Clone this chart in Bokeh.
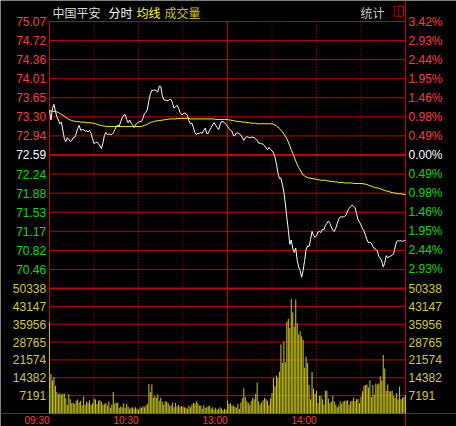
from bokeh.plotting import figure
from bokeh.models import Range1d
from bokeh.core.properties import value
from bokeh.embed import file_html
from bokeh.resources import INLINE

# ---------------- data ----------------
stock_name = "中国平安"
title_parts = ["分时", "均线", "成交量"]
stat_label = "统计"
prev_close = 72.59
price_max = 75.07
vol_max = 50338

price_labels_left = ["75.07", "74.72", "74.36", "74.01", "73.65", "73.30", "72.94",
                     "72.59",
                     "72.24", "71.88", "71.53", "71.17", "70.82", "70.46"]
pct_labels_right = ["3.42%", "2.93%", "2.44%", "1.95%", "1.46%", "0.98%", "0.49%",
                    "0.00%",
                    "0.49%", "0.98%", "1.46%", "1.95%", "2.44%", "2.93%"]
vol_labels = ["50338", "43147", "35956", "28765", "21574", "14382", "7191"]
time_labels = ["09:30", "10:30", "13:00", "14:00"]
time_label_minutes = [0, 60, 120, 180]
grid_minutes_dotted = [30, 60, 90, 150, 180, 210]

minutes = list(range(241))

price = [
    73.42, 73.24, 73.46, 73.53, 73.40, 73.30, 73.24, 73.17, 73.20, 73.05,
    72.89, 72.84, 72.91, 72.88, 72.84, 72.86, 72.91, 72.92, 72.99, 73.08,
    73.14, 73.05, 73.06, 73.06, 73.03, 73.04, 73.02, 73.05, 72.99, 72.89,
    72.80, 72.82, 72.83, 72.80, 72.76, 72.71, 72.81, 72.95, 73.01, 72.97,
    72.98, 72.97, 72.97, 73.00, 73.06, 73.12, 73.15, 73.12, 73.21, 73.28,
    73.33, 73.34, 73.25, 73.19, 73.24, 73.18, 73.15, 73.10, 73.15, 73.18,
    73.20, 73.21, 73.21, 73.27, 73.36, 73.38, 73.44, 73.60, 73.72, 73.79,
    73.79, 73.80, 73.78, 73.76, 73.87, 73.86, 73.70, 73.62, 73.61, 73.60,
    73.60, 73.62, 73.62, 73.55, 73.46, 73.49, 73.51, 73.46, 73.38, 73.34,
    73.35, 73.37, 73.36, 73.32, 73.23, 73.17, 73.18, 73.10, 73.01, 72.97,
    72.99, 72.99, 73.01, 72.99, 73.05, 73.09, 72.99, 72.99, 73.05, 73.10,
    73.15, 73.19, 73.14, 73.10, 73.06, 73.16, 73.21, 73.21, 73.19, 73.16,
    73.12, 73.08, 73.05, 73.03, 72.95, 72.95, 73.00, 73.00, 72.98, 72.96,
    72.91, 72.86, 72.91, 72.93, 72.92, 72.91, 72.92, 72.92, 72.91, 72.89,
    72.86, 72.81, 72.81, 72.80, 72.79, 72.76, 72.72, 72.69, 72.73, 72.69,
    72.67, 72.63, 72.55, 72.42, 72.26, 72.15, 72.16, 72.04, 71.90, 71.68,
    71.43, 71.20, 70.93, 71.01, 70.85, 70.78, 70.86, 70.63, 70.51, 70.44,
    70.32, 70.45, 70.63, 70.84, 70.90, 70.89, 71.02, 71.17, 71.10, 71.06,
    71.09, 71.16, 71.17, 71.15, 71.21, 71.20, 71.28, 71.32, 71.36, 71.32,
    71.25, 71.19, 71.17, 71.23, 71.32, 71.40, 71.44, 71.44, 71.44, 71.45,
    71.48, 71.55, 71.60, 71.63, 71.66, 71.64, 71.61, 71.50, 71.39, 71.34,
    71.29, 71.22, 71.18, 71.10, 71.02, 70.96, 70.97, 70.95, 70.89, 70.85,
    70.84, 70.81, 70.71, 70.67, 70.62, 70.51, 70.58, 70.72, 70.68, 70.70,
    70.71, 70.73, 70.75, 70.88, 70.98, 71.00, 70.99, 71.00, 70.98, 71.00,
    71.01]

avg_price = [
    73.41, 73.41, 73.40, 73.40, 73.40, 73.39, 73.38, 73.36, 73.34, 73.33,
    73.31, 73.29, 73.27, 73.25, 73.24, 73.23, 73.22, 73.22, 73.21, 73.21,
    73.21, 73.20, 73.20, 73.20, 73.20, 73.19, 73.19, 73.19, 73.19, 73.18,
    73.18, 73.17, 73.16, 73.15, 73.14, 73.14, 73.13, 73.13, 73.12, 73.12,
    73.12, 73.12, 73.12, 73.12, 73.12, 73.12, 73.12, 73.12, 73.12, 73.12,
    73.12, 73.12, 73.12, 73.12, 73.12, 73.12, 73.12, 73.12, 73.12, 73.12,
    73.12, 73.12, 73.12, 73.13, 73.14, 73.15, 73.16, 73.18, 73.19, 73.20,
    73.21, 73.22, 73.22, 73.23, 73.23, 73.23, 73.24, 73.24, 73.25, 73.25,
    73.25, 73.26, 73.26, 73.26, 73.26, 73.26, 73.27, 73.27, 73.27, 73.27,
    73.27, 73.27, 73.27, 73.27, 73.27, 73.26, 73.26, 73.26, 73.26, 73.26,
    73.26, 73.26, 73.26, 73.26, 73.26, 73.26, 73.26, 73.26, 73.26, 73.26,
    73.26, 73.26, 73.25, 73.25, 73.25, 73.25, 73.25, 73.25, 73.25, 73.25,
    73.25, 73.24, 73.24, 73.23, 73.23, 73.22, 73.22, 73.21, 73.21, 73.21,
    73.20, 73.20, 73.20, 73.19, 73.19, 73.19, 73.18, 73.18, 73.18, 73.18,
    73.17, 73.17, 73.17, 73.17, 73.17, 73.17, 73.17, 73.17, 73.17, 73.17,
    73.17, 73.16, 73.15, 73.13, 73.11, 73.08, 73.05, 73.02, 72.98, 72.94,
    72.89, 72.83, 72.76, 72.69, 72.62, 72.55, 72.48, 72.41, 72.36, 72.31,
    72.26, 72.22, 72.20, 72.18, 72.17, 72.16, 72.16, 72.15, 72.15, 72.14,
    72.14, 72.13, 72.13, 72.12, 72.12, 72.12, 72.12, 72.11, 72.11, 72.10,
    72.10, 72.10, 72.09, 72.09, 72.09, 72.08, 72.08, 72.08, 72.08, 72.07,
    72.07, 72.07, 72.07, 72.07, 72.07, 72.06, 72.06, 72.06, 72.06, 72.06,
    72.06, 72.06, 72.05, 72.05, 72.04, 72.03, 72.02, 72.01, 72.00, 71.99,
    71.98, 71.98, 71.97, 71.96, 71.95, 71.94, 71.93, 71.92, 71.92, 71.91,
    71.90, 71.89, 71.89, 71.88, 71.88, 71.87, 71.87, 71.87, 71.86, 71.86,
    71.86]

volume = [
    36900, 15900, 13400, 14650, 11200, 8660, 7640, 8280, 7500,
    7900, 8030, 6120, 3570, 7900, 5730, 4080, 4330, 3800,
    5100, 5610, 4460, 5100, 3190, 6880, 3570, 4840, 4200,
    5350, 3570, 4080, 6120, 5610, 3820, 5100, 5480, 4600,
    3570, 3820, 4330, 3190, 4840, 2290, 3570, 8660, 4000,
    4460, 4330, 2290, 2800, 2550, 4080, 2290, 3820, 2800,
    1910, 2290, 2550, 1910, 2550, 1910, 1530, 2550, 2300,
    2930, 2550, 3190, 3820, 11850, 8540, 11720, 6370, 7000,
    6370, 7640, 5100, 6370, 4840, 3570, 4840, 4840, 4100,
    3190, 3190, 4460, 2550, 4200, 2800, 3570, 2550, 3000,
    2800, 2550, 2290, 1910, 3190, 2550, 3570, 4330, 3900,
    4840, 4080, 3190, 3190, 1910, 3190, 2290, 2550, 2900,
    3190, 1910, 2550, 1530, 2290, 1530, 1910, 2550, 2000,
    1270, 1910, 1530, 5100, 3820, 4080, 3190, 3190, 2700,
    2290, 3820, 1910, 4460, 6120, 10190, 6630, 4840, 4300,
    3570, 5100, 6370, 5730, 7900, 12490, 4840, 3570, 4400,
    5350, 6370, 5730, 5100, 3570, 6120, 8280, 14270, 11000,
    15290, 14270, 16820, 27770, 20380, 29050, 20640, 36950, 38000,
    34400, 46120, 40770, 35030, 45860, 36310, 31850, 33120, 31000,
    29560, 18470, 22930, 20380, 11470, 5730, 16820, 9940, 8000,
    9170, 4080, 7010, 7010, 5730, 3570, 9170, 9170, 6000,
    4080, 4840, 7010, 4840, 3570, 2550, 3190, 4840, 3800,
    4840, 5100, 5100, 5350, 3570, 4840, 5100, 6370, 4900,
    5730, 5730, 4080, 6630, 8920, 11210, 11470, 11720, 10500,
    13380, 6630, 11470, 7640, 12100, 11720, 12100, 15030, 13200,
    23570, 18090, 9170, 11720, 8920, 8920, 9170, 7010, 6200,
    8280, 5730, 10830, 5730, 6370, 6630, 7400]

# ---------------- layout / style ----------------
W, H = 456, 426
X0, XW = 49.0, 356.0           # pixel of minute 0, width of 240 minutes
Y_TOP, ROW_P = 21.0, 19.07     # pixel of top price line, price row height
VOL_TOP = Y_TOP + 14 * ROW_P   # pixel of volume max line
VOL_BOT = 413.0                # pixel of volume zero line
ROW_V = (VOL_BOT - VOL_TOP) / 7
N_MIN = 240
ppm = XW / N_MIN
step = (price_max - prev_close) / 7.0
vstep = vol_max / 7.0
ppp = step / ROW_P
vpp = vstep / ROW_V

BG = "#000000"
GRID = "#c00000"
RED_T = "#ff3c3c"
GREEN_T = "#00dd00"
WHITE = "#ffffff"
VOL_T = "#d0c838"
VOL_BAR = "#c8c400"
AVG = "#ffff00"
NUM_FONT = value("Liberation Sans")
CJK_FONT = value("Noto Sans CJK SC")
FS = "12px"


def mx(px):
    return (px - X0) / ppm


def py(pix):
    return price_max - (pix - Y_TOP) * ppp


p = figure(width=W, height=H, x_range=Range1d(mx(0), mx(W)),
           y_range=Range1d(py(H), py(0)),
           x_axis_type=None, y_axis_type=None,
           toolbar_location=None, output_backend="svg",
           min_border=0, background_fill_color=BG, border_fill_color=BG,
           outline_line_color=None)
p.extra_y_ranges = {"vol": Range1d(-(H - VOL_BOT) * vpp, VOL_BOT * vpp)}

levels = [prev_close + step * k for k in range(7, -8, -1)]
bottom_price = py(VOL_BOT)

# horizontal grid lines (price panel)
thin = [lv for i, lv in enumerate(levels[:-1]) if i != 7]
p.segment(x0=[0] * len(thin), x1=[N_MIN] * len(thin), y0=thin, y1=thin,
          line_color=GRID, line_width=1)
p.segment(x0=[0], x1=[N_MIN], y0=[prev_close], y1=[prev_close],
          line_color=GRID, line_width=2)
# volume panel lines
vlev = [vol_max - vstep * k for k in range(1, 7)]
p.segment(x0=[0] * 6, x1=[N_MIN] * 6, y0=vlev, y1=vlev,
          line_color=GRID, line_width=1, y_range_name="vol")
p.segment(x0=[0], x1=[N_MIN], y0=[vol_max], y1=[vol_max],
          line_color=GRID, line_width=2, y_range_name="vol")
p.segment(x0=[mx(0)], x1=[mx(W)], y0=[0], y1=[0],
          line_color=GRID, line_width=1, y_range_name="vol")

# vertical lines
p.segment(x0=grid_minutes_dotted, x1=grid_minutes_dotted,
          y0=[price_max] * 6, y1=[bottom_price] * 6,
          line_color=GRID, line_width=1, line_dash="1 2")
p.segment(x0=[0, 120], x1=[0, 120], y0=[price_max] * 2, y1=[bottom_price] * 2,
          line_color=GRID, line_width=1)
p.segment(x0=[N_MIN], x1=[N_MIN], y0=[py(0)], y1=[py(H)],
          line_color=GRID, line_width=1)

# volume bars
p.vbar(x=minutes, top=volume, bottom=0, width=0.7, fill_color=VOL_BAR,
       line_color=None, y_range_name="vol")

# price and average lines
p.line(minutes, avg_price, line_color=AVG, line_width=1)
p.line(minutes, price, line_color=WHITE, line_width=1)

# left/right price labels
lab_levels = levels[:14]
cols = [RED_T] * 7 + [WHITE] + [GREEN_T] * 6
p.text(x=[mx(45.7)] * 14, y=lab_levels, text=price_labels_left, text_color=cols,
       text_font=NUM_FONT, text_font_size=FS, text_align="right",
       text_baseline="middle")
p.text(x=[mx(408)] * 14, y=lab_levels, text=pct_labels_right, text_color=cols,
       text_font=NUM_FONT, text_font_size=FS, text_align="left",
       text_baseline="middle")
# volume labels
vl = [vol_max - vstep * k for k in range(7)]
p.text(x=[mx(45.7)] * 7, y=vl, text=vol_labels, text_color=VOL_T,
       text_font=NUM_FONT, text_font_size=FS, text_align="right",
       text_baseline="middle", y_range_name="vol")
p.text(x=[mx(408)] * 7, y=vl, text=vol_labels, text_color=VOL_T,
       text_font=NUM_FONT, text_font_size=FS, text_align="left",
       text_baseline="middle", y_range_name="vol")
# time labels along the bottom
p.text(x=time_label_minutes, y=[py(425.5)] * 4,
       text=time_labels, text_color=RED_T, text_font=NUM_FONT,
       text_font_size="10px", text_align="right", text_baseline="bottom")

# title row
ty = py(12)
p.text(x=[mx(52)], y=[ty], text=[stock_name], text_color="#dcdcdc",
       text_font=CJK_FONT, text_font_size=FS, text_baseline="middle")
p.text(x=[mx(108), mx(136), mx(164)], y=[ty] * 3, text=title_parts,
       text_color=[WHITE, AVG, VOL_BAR], text_font=CJK_FONT,
       text_font_size=FS, text_baseline="middle")
p.text(x=[mx(360)], y=[ty], text=[stat_label], text_color="#c8c8c8",
       text_font=CJK_FONT, text_font_size=FS, text_baseline="middle")
p.quad(left=[mx(393.7)], right=[mx(403)], top=[py(5.7)], bottom=[py(15.7)],
       fill_color=None, line_color=GRID, line_width=1)
p.segment(x0=[mx(398.3)], x1=[mx(398.3)], y0=[py(5.7)], y1=[py(15.7)],
          line_color=GRID, line_width=1)

open("out.html", "w").write(file_html(p, INLINE))
